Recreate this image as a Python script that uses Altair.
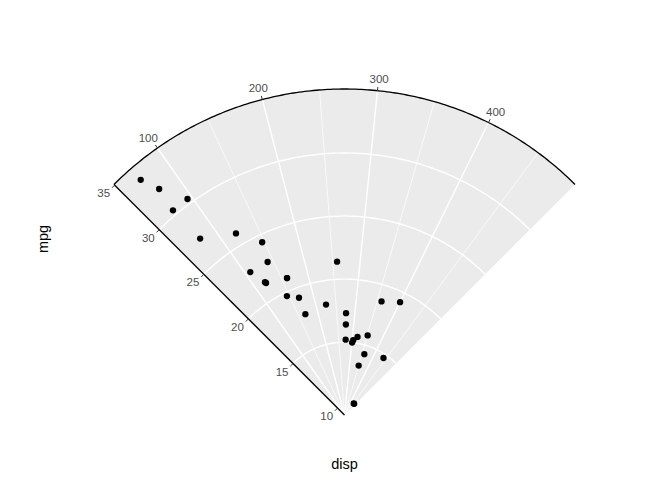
import numpy as np
import pandas as pd
import altair as alt

# ---- data (mtcars: disp vs mpg) ----
disp = [160, 160, 108, 258, 360, 225, 360, 146.7, 140.8, 167.6, 167.6, 275.8, 275.8, 275.8,
        472, 460, 440, 78.7, 75.7, 71.1, 120.1, 318, 304, 350, 400, 79, 120.3, 95.1, 351,
        145, 301, 121]
mpg = [21, 21, 22.8, 21.4, 18.7, 18.1, 14.3, 24.4, 22.8, 19.2, 17.8, 16.4, 17.3, 15.2,
       10.4, 10.4, 14.7, 32.4, 30.4, 33.9, 21.5, 15.5, 15.2, 13.3, 19.2, 27.3, 26, 30.4,
       15.8, 19.7, 15, 21.4]

r_breaks = [10, 15, 20, 25, 30, 35]
r_grid = [15, 20, 25, 30]
theta_breaks = [100, 200, 300, 400]
theta_minor = [150, 250, 350, 450]

# ---- coordinate system (radial, start -45deg, end +45deg) ----
def expand(lo, hi, f=0.05):
    d = (hi - lo) * f
    return lo - d, hi + d

R_LO, R_HI = expand(min(mpg), max(mpg))
T_LO, T_HI = expand(min(disp), max(disp))
START, END = -45.0, 45.0
RPX = 326.0            # outer radius in pixels
TICK = 3.7 / RPX       # tick length in radius units


def ang(d):
    return np.radians(START + (np.asarray(d, float) - T_LO) / (T_HI - T_LO) * (END - START))


def rad(m):
    return (np.asarray(m, float) - R_LO) / (R_HI - R_LO)


def polar(d, m):
    t, r = ang(d), rad(m)
    return r * np.sin(t), r * np.cos(t)


W, H = 656, 464
CX, CY = 344.5, 415.0   # page pixel of the centre
xdom = [(8 - CX) / RPX, (8 + W - CX) / RPX]
ydom = [(CY - 8 - H) / RPX, (CY - 8) / RPX]
xs = alt.Scale(domain=xdom, nice=False, zero=False)
ys = alt.Scale(domain=ydom, nice=False, zero=False)
X = lambda f: alt.X(f, type="quantitative", scale=xs, axis=None)
Y = lambda f: alt.Y(f, type="quantitative", scale=ys, axis=None)

# background fan
s45 = np.sin(np.radians(45))
bx = np.linspace(-s45, s45, 241)
bg_df = pd.DataFrame({"x": bx, "y": np.abs(bx), "y2": np.sqrt(np.clip(1 - bx ** 2, 0, None))})
bg = alt.Chart(bg_df).mark_area(color="#EBEBEB").encode(x=X("x"), y=Y("y"), y2="y2")

# spokes
def spokes(vals):
    t = ang(vals)
    return pd.DataFrame({"x": 0.0, "y": 0.0, "x2": np.sin(t), "y2": np.cos(t)})

minor = alt.Chart(spokes(theta_minor)).mark_rule(color="white", strokeWidth=0.7).encode(
    x=X("x"), y=Y("y"), x2="x2", y2="y2")
major = alt.Chart(spokes(theta_breaks)).mark_rule(color="white", strokeWidth=1.4).encode(
    x=X("x"), y=Y("y"), x2="x2", y2="y2")

# grid circles
tt = np.radians(np.linspace(START, END, 181))
rows = []
for g in r_grid:
    r = rad(g)
    for i, t in enumerate(tt):
        rows.append({"g": g, "i": i, "x": r * np.sin(t), "y": r * np.cos(t)})
circ = alt.Chart(pd.DataFrame(rows)).mark_line(color="white", strokeWidth=1.4).encode(
    x=X("x"), y=Y("y"), detail="g:N", order="i:Q")

# outer arc
arc_df = pd.DataFrame({"i": range(len(tt)), "x": np.sin(tt), "y": np.cos(tt)})
outer = alt.Chart(arc_df).mark_line(color="black", strokeWidth=1.3).encode(
    x=X("x"), y=Y("y"), order="i:Q")

# r axis line (along start edge)
ax0 = polar(T_LO, R_LO)
ax1 = polar(T_LO, R_HI)
axl = alt.Chart(pd.DataFrame({"x": [float(ax0[0])], "y": [float(ax0[1])],
                              "x2": [float(ax1[0])], "y2": [float(ax1[1])]})).mark_rule(
    color="black", strokeWidth=1.3).encode(x=X("x"), y=Y("y"), x2="x2", y2="y2")

# r ticks & labels
rx, ry = polar([T_LO] * len(r_breaks), r_breaks)
tdx, tdy = -np.cos(np.radians(45)) * TICK, -np.sin(np.radians(45)) * TICK
rt_df = pd.DataFrame({"x": rx, "y": ry, "x2": rx + tdx, "y2": ry + tdy, "lab": [str(v) for v in r_breaks]})
rticks = alt.Chart(rt_df).mark_rule(color="#333333", strokeWidth=1.0).encode(
    x=X("x"), y=Y("y"), x2="x2", y2="y2")
rlabs = alt.Chart(rt_df).mark_text(align="right", baseline="middle", dx=-4.5, dy=9,
                                   font="Liberation Sans", fontSize=11.5, color="#4D4D4D").encode(
    x=X("x"), y=Y("y"), text="lab:N")

# theta ticks & labels
th = ang(theta_breaks)
tk_df = pd.DataFrame({"x": np.sin(th), "y": np.cos(th),
                      "x2": np.sin(th) * (1 + TICK), "y2": np.cos(th) * (1 + TICK),
                      "lx": np.sin(th) * (1 + 16 / RPX), "ly": np.cos(th) * (1 + 11 / RPX),
                      "lab": [str(v) for v in theta_breaks]})
tticks = alt.Chart(tk_df).mark_rule(color="#333333", strokeWidth=1.0).encode(
    x=X("x"), y=Y("y"), x2="x2", y2="y2")
tlabs = alt.Chart(tk_df).mark_text(align="center", baseline="middle",
                                   font="Liberation Sans", fontSize=11.5, color="#4D4D4D").encode(
    x=X("lx"), y=Y("ly"), text="lab:N")

# points
px, py = polar(disp, mpg)
pts = alt.Chart(pd.DataFrame({"x": px, "y": py, "disp": disp, "mpg": mpg})).mark_circle(
    color="black", opacity=1, size=40).encode(x=X("x"), y=Y("y"))

# axis titles
titles_df = pd.DataFrame({"t": ["disp"]})
xtitle = alt.Chart(titles_df).mark_text(font="Liberation Sans", fontSize=14.5, color="black",
                                        align="center", baseline="middle").encode(
    x=alt.value(344.5 - 8), y=alt.value(465 - 8), text="t:N")
ytitle = alt.Chart(pd.DataFrame({"t": ["mpg"]})).mark_text(font="Liberation Sans", fontSize=14.5,
                                                          color="black", angle=270,
                                                          align="center", baseline="middle").encode(
    x=alt.value(44 - 8), y=alt.value(239 - 8), text="t:N")

chart = alt.layer(bg, minor, major, circ, outer, axl, rticks, rlabs, tticks, tlabs, pts,
                  xtitle, ytitle).properties(
    width=W, height=H, padding=0, background="white"
).configure_view(stroke=None)

chart.save("out.html", embed_options={"renderer": "svg", "actions": False})
